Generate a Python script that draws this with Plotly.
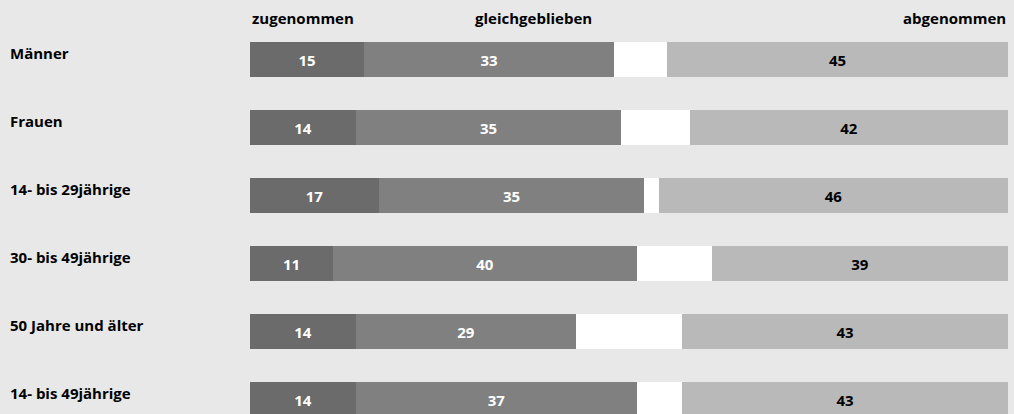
import plotly.graph_objects as go

categories = ["Männer", "Frauen", "14- bis 29jährige", "30- bis 49jährige",
              "50 Jahre und älter", "14- bis 49jährige"]
zugenommen = [15, 14, 17, 11, 14, 14]
gleichgeblieben = [33, 35, 35, 40, 29, 37]
abgenommen = [45, 42, 46, 39, 43, 43]
header_labels = ["zugenommen", "gleichgeblieben", "abgenommen"]

rest = [100 - a - b - c for a, b, c in zip(zugenommen, gleichgeblieben, abgenommen)]
ypos = list(range(len(categories)))

FONT = "Open Sans"
FS = 15
BG = "#e8e8e8"
fig = go.Figure()

def add(vals, color, tcolor, show_text=True):
    fig.add_trace(go.Bar(
        x=vals, y=ypos, orientation="h", marker=dict(color=color, line=dict(width=0)),
        width=0.515,
        text=[str(v) for v in vals] if show_text else None,
        textposition="inside" if show_text else "none",
        insidetextanchor="middle", constraintext="none",
        textfont=dict(family=FONT, size=FS, color=tcolor, weight="bold"),
        hoverinfo="skip", showlegend=False,
    ))

add(zugenommen, "#6b6b6b", "white")
add(gleichgeblieben, "#808080", "white")
add(rest, "#ffffff", "white", show_text=False)
add(abgenommen, "#b9b9b9", "black")

annotations = []
for i, c in enumerate(categories):
    annotations.append(dict(
        text=c, xref="paper", yref="y", x=-250 / 758, y=i, xanchor="left",
        yanchor="middle", xshift=8, yshift=7, showarrow=False,
        font=dict(family=FONT, size=FS, color="black", weight="bold"),
    ))

hx = [0, (533 - 250) / 758, 1]
hanchor = ["left", "center", "right"]
for t, x, a in zip(header_labels, hx, hanchor):
    annotations.append(dict(
        text=t, xref="paper", yref="paper", x=x, y=1, xanchor=a, yanchor="top",
        yshift=-6, showarrow=False,
        font=dict(family=FONT, size=FS, color="black", weight="bold"),
    ))

fig.update_layout(
    barmode="stack", width=1014, height=414,
    margin=dict(l=250, r=6, t=0, b=0),
    paper_bgcolor=BG, plot_bgcolor=BG,
    xaxis=dict(range=[0, 100], visible=False, fixedrange=True),
    yaxis=dict(range=[(414 - 59.5) / 68, -59.5 / 68], visible=False, fixedrange=True),
    annotations=annotations, bargap=0,
)

fig.write_html("out.html", config={"displayModeBar": False},
               post_script="document.body.style.margin='0px';document.body.style.overflow='hidden';")
